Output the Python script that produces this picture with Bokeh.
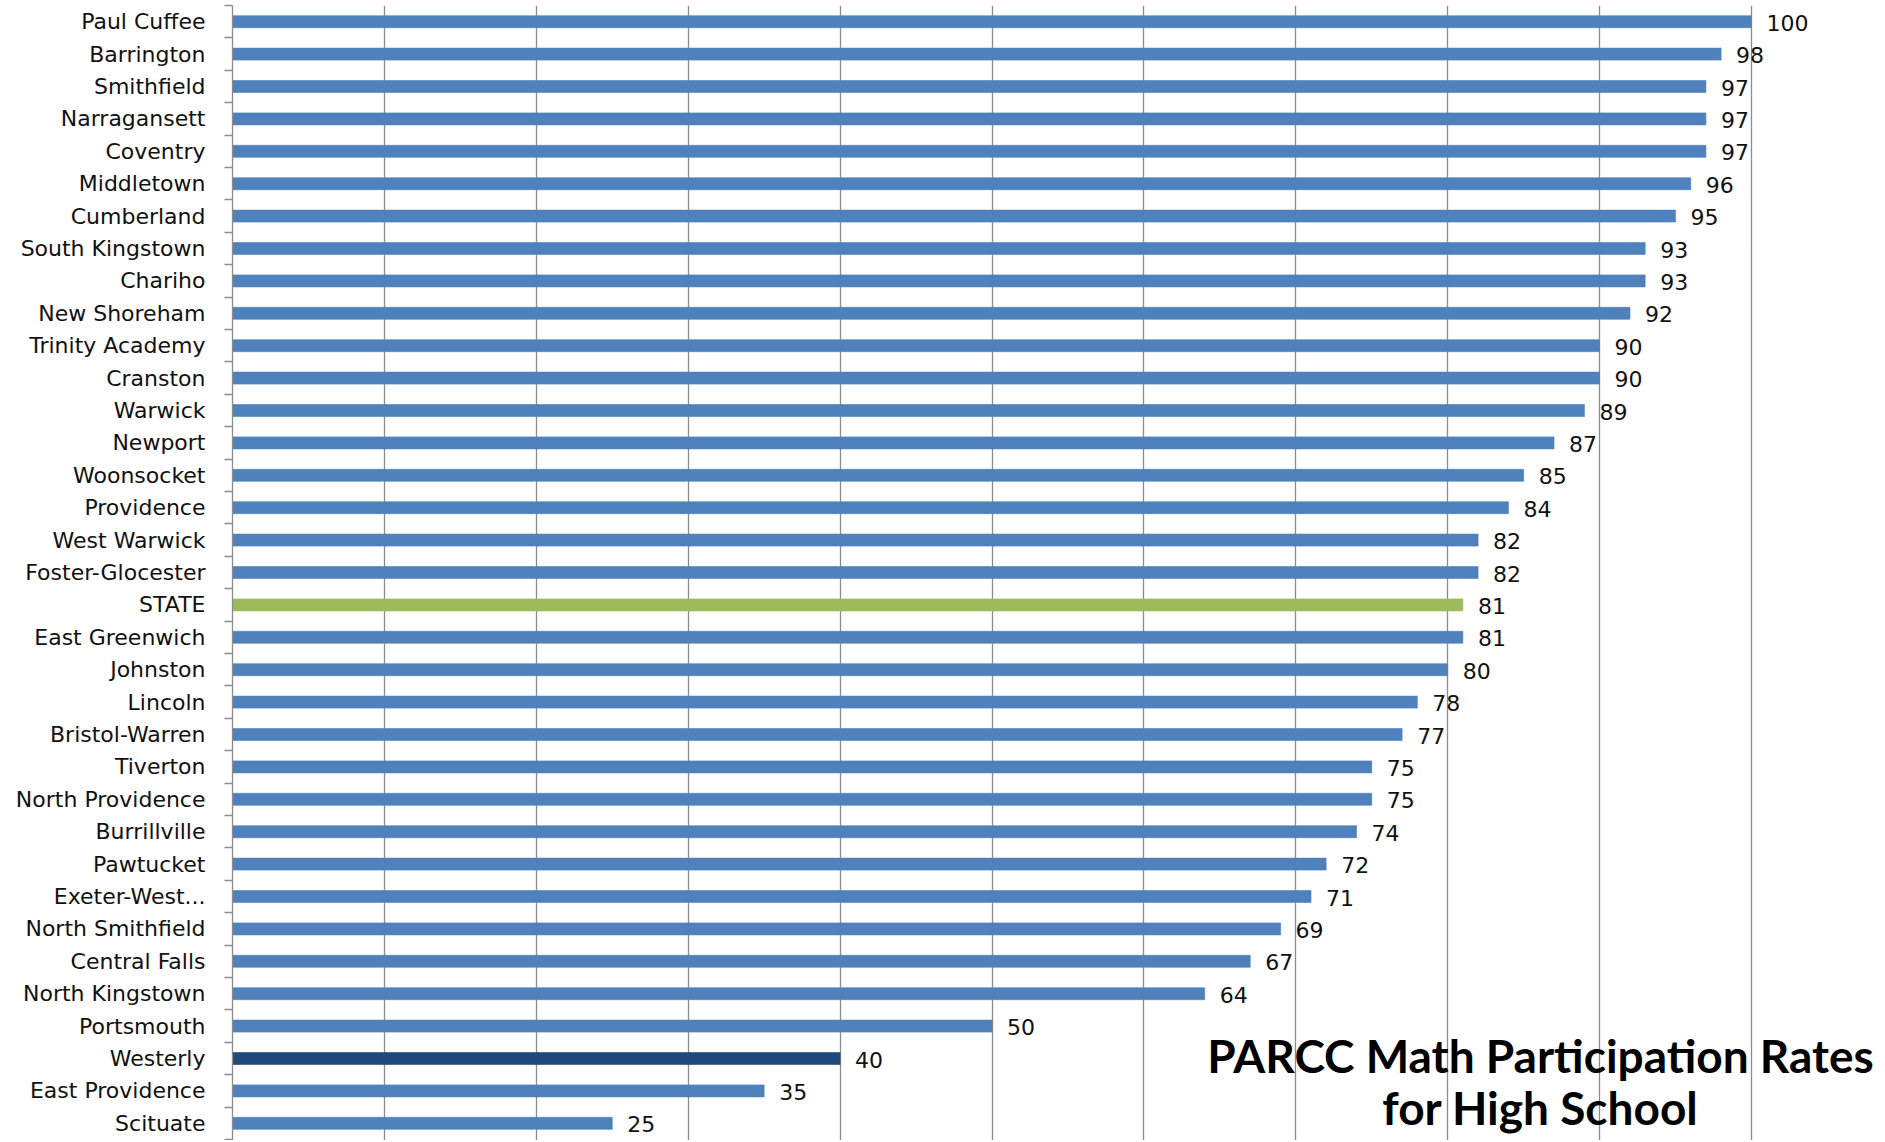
from bokeh.plotting import figure
from bokeh.models import Range1d, FixedTicker, Grid, ColumnDataSource, Label
from bokeh.core.properties import value
from bokeh.embed import file_html
from bokeh.resources import INLINE

districts = ["Paul Cuffee", "Barrington", "Smithfield", "Narragansett", "Coventry",
             "Middletown", "Cumberland", "South Kingstown", "Chariho", "New Shoreham",
             "Trinity Academy", "Cranston", "Warwick", "Newport", "Woonsocket",
             "Providence", "West Warwick", "Foster-Glocester", "STATE", "East Greenwich",
             "Johnston", "Lincoln", "Bristol-Warren", "Tiverton", "North Providence",
             "Burrillville", "Pawtucket", "Exeter-West...", "North Smithfield", "Central Falls",
             "North Kingstown", "Portsmouth", "Westerly", "East Providence", "Scituate"]
rates = [100, 98, 97, 97, 97, 96, 95, 93, 93, 92, 90, 90, 89, 87, 85, 84, 82, 82, 81, 81,
         80, 78, 77, 75, 75, 74, 72, 71, 69, 67, 64, 50, 40, 35, 25]
grid_ticks = [10, 20, 30, 40, 50, 60, 70, 80, 90, 100]
title_lines = ["PARCC Math Participation Rates", "for High School"]

BLUE = "#4F81BD"
GREEN = "#9BBB59"
DARK = "#1F497D"
GRID = "#8C8C8C"

n = len(districts)
ypos = [n - 1 - i for i in range(n)]
colors = [GREEN if d == "STATE" else (DARK if d == "Westerly" else BLUE) for d in districts]
labels = [str(v) for v in rates]

W, H = 1877, 1140
frame_left = 232
frame_top = 5
px_per_unit = 15.19
band = 32.4
x_end = (W - frame_left) / px_per_unit
y_top = n - 0.5
y_bottom = y_top - (H - frame_top) / band

p = figure(width=W, height=H, output_backend="svg", toolbar_location=None,
           x_range=Range1d(0, x_end), y_range=Range1d(y_bottom, y_top),
           x_axis_location=None, min_border_left=frame_left, min_border_right=0,
           min_border_top=frame_top, min_border_bottom=0)
p.outline_line_color = None
p.background_fill_color = "white"
p.border_fill_color = "white"
p.ygrid.visible = False
p.xgrid.visible = False

g = Grid(dimension=0, ticker=FixedTicker(ticks=grid_ticks), grid_line_color=GRID,
         grid_line_width=1.3)
p.add_layout(g)

src = ColumnDataSource(dict(y=ypos, v=rates, c=colors, lab=labels))
p.hbar(y="y", left=0, right="v", height=0.37, fill_color="c", line_color="c",
       line_alpha=0.6, source=src)
p.text(x="v", y="y", text="lab", x_offset=15, y_offset=1, text_align="left",
       text_baseline="middle", text_font_size="22px", text_color="#111111",
       text_font=value("DejaVu Sans"), source=src)

ax = p.yaxis[0]
ax.ticker = FixedTicker(ticks=ypos, minor_ticks=[k + 0.5 for k in range(-1, n)])
ax.major_label_overrides = {y: d for y, d in zip(ypos, districts)}
ax.major_tick_out = 0
ax.major_tick_in = 0
ax.minor_tick_out = 8
ax.minor_tick_in = 0
ax.minor_tick_line_color = GRID
ax.minor_tick_line_width = 1.3
ax.axis_line_color = GRID
ax.axis_line_width = 1.3
ax.major_label_standoff = 19
ax.major_label_text_font = "DejaVu Sans"
ax.major_label_text_font_size = "22px"
ax.major_label_text_color = "#111111"

tx = (1540 - frame_left) / px_per_unit
for i, t in enumerate(title_lines):
    yy = y_top - (1055 + 52 * i - frame_top) / band
    p.add_layout(Label(x=tx, y=yy, text=t, text_align="center", text_baseline="middle",
                       text_font="Lato", text_font_style="bold", text_font_size="46px",
                       text_color="#000000"))

open("out.html", "w").write(file_html(p, INLINE))
